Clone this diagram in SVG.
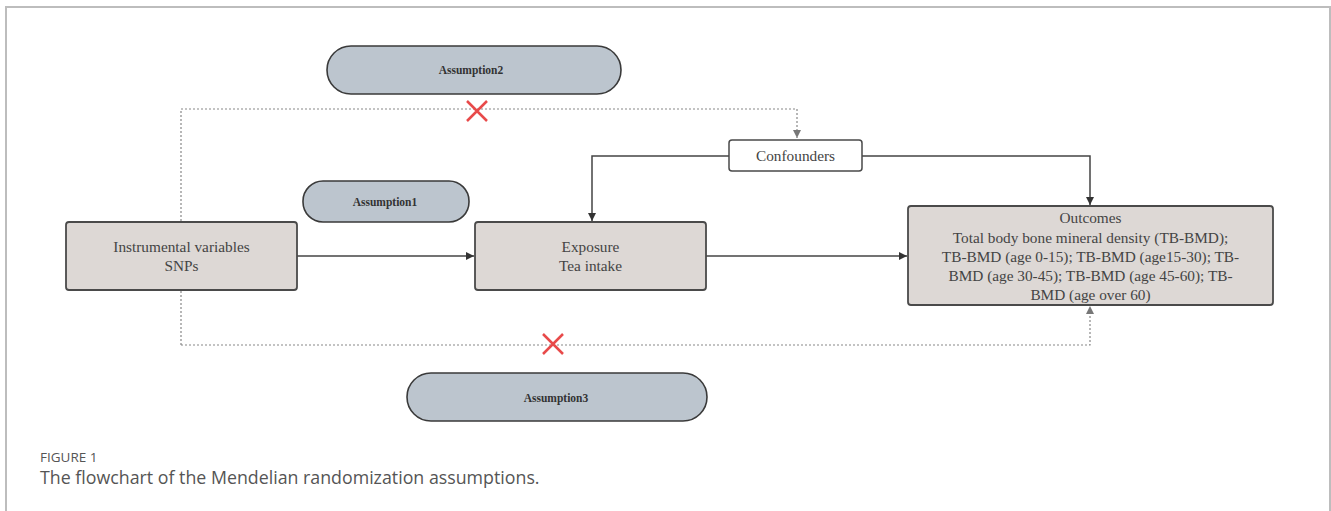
<svg xmlns="http://www.w3.org/2000/svg" width="1331" height="511" viewBox="0 0 1331 511">
<style>
.frame{fill:none;stroke:#bdbdbd;stroke-width:2}
.pill{fill:#bcc5ce;stroke:#3a3a3a;stroke-width:1.6}
.box{fill:#ddd8d5;stroke:#4a4a4a;stroke-width:1.8}
.wbox{fill:#ffffff;stroke:#4a4a4a;stroke-width:1.5}
.t{font-family:"Liberation Serif",serif;font-size:15.3px;fill:#444;text-anchor:middle}
.b{font-family:"Liberation Serif",serif;font-size:11.5px;font-weight:bold;fill:#333;text-anchor:middle}
.solid{fill:none;stroke:#444;stroke-width:1.5}
.dash{fill:none;stroke:#888;stroke-width:1.2;stroke-dasharray:2 2}
.x{stroke:#e84a4a;stroke-width:2.5;fill:none}
.cap1{font-family:"Open Sans",sans-serif;font-size:13.5px;fill:#555}
.cap2{font-family:"Open Sans",sans-serif;font-size:17.8px;fill:#555}
</style>
<defs>
<marker id="ah" viewBox="0 0 10 10" refX="10" refY="5" markerWidth="8" markerHeight="8" markerUnits="userSpaceOnUse" orient="auto"><path d="M0,0 L10,5 L0,10 z" fill="#333"/></marker>
<marker id="ahg" viewBox="0 0 10 10" refX="10" refY="5" markerWidth="8" markerHeight="8" markerUnits="userSpaceOnUse" orient="auto"><path d="M0,0 L10,5 L0,10 z" fill="#777"/></marker>
</defs>
<path class="frame" d="M6,511 L6,7 L1330,7 L1330,511"/>
<g id="connectors">
<path class="dash" d="M181,345 L181,109 L797,109 L797,138" marker-end="url(#ahg)"/>
<path class="dash" d="M181,345 L1090,345 L1090,306" marker-end="url(#ahg)"/>
<path class="solid" d="M729,156 L592,156 L592,221" marker-end="url(#ah)"/>
<path class="solid" d="M862,156 L1090,156 L1090,205" marker-end="url(#ah)"/>
<path class="solid" d="M297,256 L474,256" marker-end="url(#ah)"/>
<path class="solid" d="M706,256 L907,256" marker-end="url(#ah)"/>
<path class="x" d="M467,101 L487,121 M487,101 L467,121"/>
<path class="x" d="M543,334 L563,354 M563,334 L543,354"/>
</g>
<g id="assumption2"><rect class="pill" x="327" y="46" width="294" height="48" rx="24"/><text class="b" x="471" y="74">Assumption2</text></g>
<g id="assumption1"><rect class="pill" x="303" y="181" width="166" height="41" rx="20"/><text class="b" x="385" y="206">Assumption1</text></g>
<g id="assumption3"><rect class="pill" x="407" y="373" width="300" height="48" rx="24"/><text class="b" x="556" y="402">Assumption3</text></g>
<g id="confounders"><rect class="wbox" x="729" y="140" width="133" height="31" rx="3"/><text class="t" x="795.5" y="161">Confounders</text></g>
<g id="iv"><rect class="box" x="66" y="222" width="231" height="68" rx="3"/><text class="t" x="181.5" y="252">Instrumental variables</text><text class="t" x="181.5" y="271">SNPs</text></g>
<g id="exposure"><rect class="box" x="475" y="222" width="231" height="68" rx="3"/><text class="t" x="590.5" y="252">Exposure</text><text class="t" x="590.5" y="271">Tea intake</text></g>
<g id="outcomes"><rect class="box" x="908" y="206" width="365" height="99" rx="3"/>
<text class="t" x="1090.5" y="223">Outcomes</text>
<text class="t" x="1090.5" y="243">Total body bone mineral density (TB-BMD);</text>
<text class="t" x="1090.5" y="262">TB-BMD (age 0-15); TB-BMD (age15-30); TB-</text>
<text class="t" x="1090.5" y="281">BMD (age 30-45); TB-BMD (age 45-60); TB-</text>
<text class="t" x="1090.5" y="300">BMD (age over 60)</text></g>
<text class="cap1" x="40" y="462">FIGURE 1</text>
<text class="cap2" x="40" y="484">The flowchart of the Mendelian randomization assumptions.</text>
</svg>
